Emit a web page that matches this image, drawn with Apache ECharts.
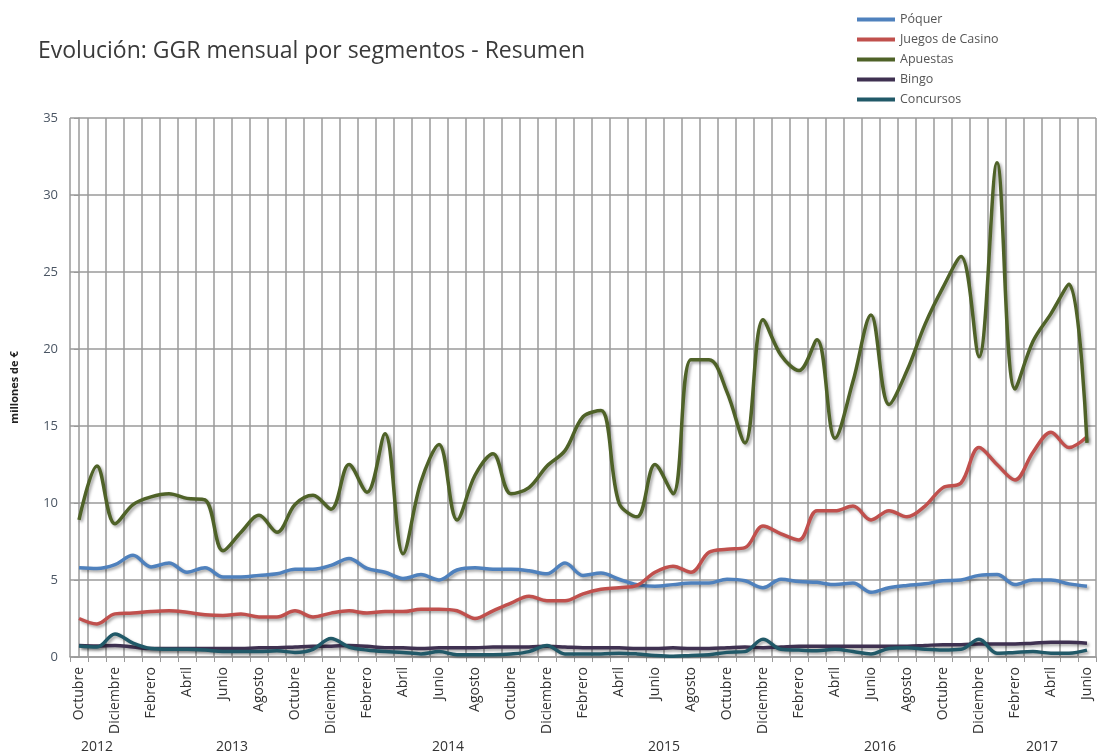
<!DOCTYPE html>
<html>
<head>
<meta charset="utf-8">
<script src="https://cdn.jsdelivr.net/npm/echarts@6/dist/echarts.min.js"></script>
<style>
  html, body { margin: 0; padding: 0; background: #fff; }
  #chart { width: 1099px; height: 756px; }
</style>
</head>
<body>
<div id="chart"></div>
<script>
// Oct 2012 .. Jun 2017
const months = [
  'Octubre', 'Noviembre', 'Diciembre',
  'Enero', 'Febrero', 'Marzo', 'Abril', 'Mayo', 'Junio', 'Julio', 'Agosto', 'Septiembre', 'Octubre', 'Noviembre', 'Diciembre',
  'Enero', 'Febrero', 'Marzo', 'Abril', 'Mayo', 'Junio', 'Julio', 'Agosto', 'Septiembre', 'Octubre', 'Noviembre', 'Diciembre',
  'Enero', 'Febrero', 'Marzo', 'Abril', 'Mayo', 'Junio', 'Julio', 'Agosto', 'Septiembre', 'Octubre', 'Noviembre', 'Diciembre',
  'Enero', 'Febrero', 'Marzo', 'Abril', 'Mayo', 'Junio', 'Julio', 'Agosto', 'Septiembre', 'Octubre', 'Noviembre', 'Diciembre',
  'Enero', 'Febrero', 'Marzo', 'Abril', 'Mayo', 'Junio'
]
// year label sits at the middle of its months (position in month index units)
const years = ['2012', '2013', '2014', '2015', '2016', '2017']
const yearCenters = [1, 8.5, 20.5, 32.5, 44.5, 53.5]

const poquer = [
  5.8, 5.75, 6.0, 6.6, 5.85, 6.1, 5.5, 5.8, 5.2, 5.2, 5.3, 5.4, 5.7,
  5.7, 5.95, 6.4, 5.75, 5.5, 5.1, 5.35, 5.0, 5.65, 5.8, 5.7, 5.7,
  5.6, 5.4, 6.1, 5.3, 5.45, 5.05, 4.7, 4.6, 4.7, 4.8, 4.8, 5.05, 4.95,
  4.5, 5.05, 4.9, 4.85, 4.7, 4.8, 4.2, 4.5, 4.65, 4.75, 4.95, 5.0,
  5.3, 5.35, 4.7, 5.0, 5.0, 4.75, 4.6
]
const casino = [
  2.5, 2.15, 2.8, 2.85, 2.95, 3.0, 2.9, 2.75, 2.7, 2.8, 2.6, 2.6, 3.0,
  2.6, 2.85, 3.0, 2.85, 2.95, 2.95, 3.1, 3.1, 3.0, 2.5, 3.0, 3.5,
  3.95, 3.65, 3.65, 4.1, 4.4, 4.5, 4.65, 5.5, 5.9, 5.5, 6.8, 7.0, 7.1,
  8.5, 8.0, 7.6, 9.5, 9.5, 9.8, 8.9, 9.5, 9.1, 9.8, 11.0, 11.3,
  13.6, 12.5, 11.5, 13.3, 14.6, 13.6, 14.3
]
const apuestas = [
  8.9, 12.4, 8.65, 9.9, 10.4, 10.6, 10.3, 10.2, 6.9, 8.1, 9.2, 8.1, 9.9,
  10.5, 9.6, 12.5, 10.7, 14.5, 6.7, 11.4, 13.8, 8.9, 11.8, 13.2, 10.6,
  11.0, 12.4, 13.4, 15.6, 16.0, 10.0, 9.1, 12.5, 10.6, 19.3, 19.3, 17.2, 13.9,
  21.9, 19.6, 18.6, 20.6, 14.2, 17.9, 22.2, 16.4, 18.6, 21.6, 24.0, 26.0,
  19.5, 32.1, 17.4, 20.5, 22.3, 24.2, 13.9
]
const bingo = [
  0.75, 0.72, 0.75, 0.65, 0.55, 0.55, 0.55, 0.55, 0.55, 0.55, 0.6, 0.6, 0.65,
  0.7, 0.7, 0.75, 0.7, 0.6, 0.6, 0.55, 0.6, 0.6, 0.6, 0.65, 0.65,
  0.65, 0.7, 0.65, 0.6, 0.6, 0.6, 0.55, 0.55, 0.6, 0.55, 0.55, 0.6, 0.65,
  0.6, 0.65, 0.7, 0.7, 0.7, 0.7, 0.7, 0.7, 0.7, 0.75, 0.8, 0.8,
  0.85, 0.85, 0.85, 0.9, 0.95, 0.95, 0.9
]
const concursos = [
  0.72, 0.65, 1.5, 0.9, 0.55, 0.5, 0.5, 0.45, 0.35, 0.35, 0.35, 0.4, 0.3,
  0.5, 1.2, 0.65, 0.45, 0.35, 0.3, 0.2, 0.35, 0.15, 0.15, 0.15, 0.2,
  0.35, 0.75, 0.2, 0.2, 0.2, 0.25, 0.2, 0.1, 0.05, 0.1, 0.15, 0.3, 0.35,
  1.15, 0.5, 0.45, 0.4, 0.5, 0.35, 0.2, 0.55, 0.6, 0.5, 0.45, 0.5,
  1.15, 0.25, 0.3, 0.35, 0.25, 0.25, 0.45
]

const seriesDefs = [
  { name: 'Póquer', data: poquer, color: '#4F81BD' },
  { name: 'Juegos de Casino', data: casino, color: '#C0504D' },
  { name: 'Apuestas', data: apuestas, color: '#4F6228' },
  { name: 'Bingo', data: bingo, color: '#3F3151' },
  { name: 'Concursos', data: concursos, color: '#215968' }
]

const chart = echarts.init(document.getElementById('chart'), null, { renderer: 'canvas' })
const FONT = '"Open Sans", "Noto Sans", sans-serif'
const GRID_COLOR = '#9a9a9a'

const option = {
  animation: false,
  textStyle: { fontFamily: FONT },
  title: {
    text: 'Evolución: GGR mensual por segmentos - Resumen',
    left: 33,
    top: 35,
    textStyle: { fontFamily: FONT, fontSize: 23, fontWeight: 'normal', color: '#3a3a3a' }
  },
  legend: {
    orient: 'vertical',
    left: 852,
    top: 8,
    itemWidth: 38,
    itemHeight: 4,
    itemGap: 7,
    icon: 'rect',
    textStyle: { fontFamily: FONT, fontSize: 12.5, color: '#555', lineHeight: 13 },
    data: seriesDefs.map(s => s.name)
  },
  grid: { left: 70, top: 118, width: 1034, height: 539 },
  xAxis: [
    {
      type: 'category',
      data: months,
      boundaryGap: true,
      axisLine: { lineStyle: { color: GRID_COLOR, width: 1.5 } },
      axisTick: { show: true, length: 5, interval: 0, lineStyle: { color: GRID_COLOR } },
      splitLine: { show: true, interval: 0, lineStyle: { color: GRID_COLOR, width: 1.5 } },
      axisLabel: {
        interval: 1,
        rotate: 90,
        margin: 10,
        fontSize: 14,
        color: '#333',
        fontFamily: FONT
      }
    },
    {
      type: 'value',
      position: 'bottom',
      min: -0.5,
      max: 56.5,
      interval: 0.5,
      axisLine: { show: false },
      axisTick: { show: false },
      splitLine: { show: false },
      axisLabel: {
        margin: 83,
        fontSize: 14,
        color: '#333',
        fontFamily: FONT,
        formatter: (v) => {
          const k = yearCenters.indexOf(v)
          return k >= 0 ? years[k] : ''
        }
      }
    }
  ],
  yAxis: {
    type: 'value',
    min: 0,
    max: 35,
    interval: 5,
    name: 'millones de €',
    nameLocation: 'middle',
    nameGap: 50,
    nameRotate: 90,
    nameTextStyle: { fontFamily: FONT, fontSize: 11, fontWeight: 'bold', color: '#222' },
    axisLine: { show: true, lineStyle: { color: GRID_COLOR, width: 1.5 } },
    axisTick: { show: true, length: 5, lineStyle: { color: GRID_COLOR } },
    splitLine: { show: true, lineStyle: { color: GRID_COLOR, width: 1.5 } },
    axisLabel: { margin: 12, fontSize: 13, color: '#4a5563', fontFamily: FONT }
  },
  series: seriesDefs.map(s => ({
    name: s.name,
    type: 'line',
    data: s.data,
    smooth: 0.35,
    symbol: 'none',
    color: s.color,
    lineStyle: {
      color: s.color,
      width: 3.5,
      shadowColor: 'rgba(0, 0, 0, 0.35)',
      shadowBlur: 3,
      shadowOffsetX: 2,
      shadowOffsetY: 2
    }
  }))
}

chart.setOption(option)
</script>
</body>
</html>
